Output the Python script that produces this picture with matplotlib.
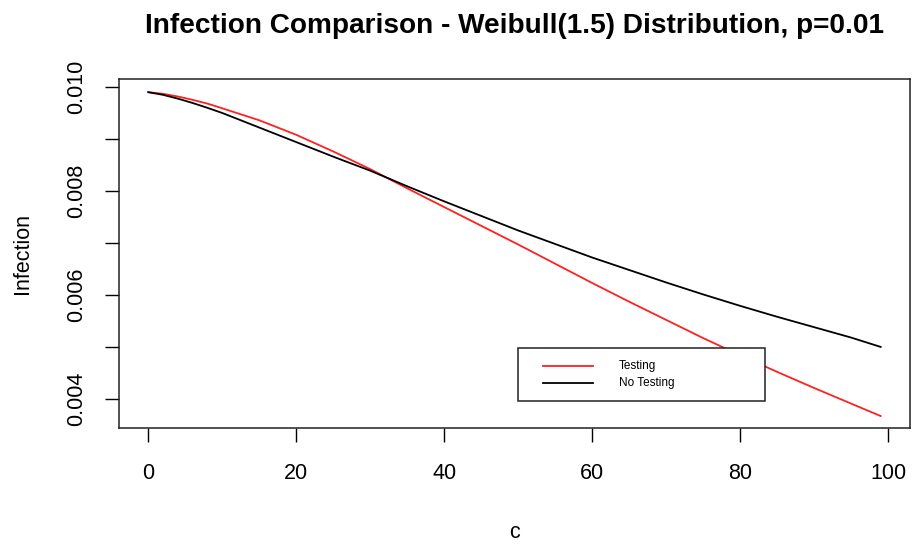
import numpy as np
import matplotlib
matplotlib.use('Agg')
import matplotlib.pyplot as plt
from matplotlib.patches import Rectangle

plt.rcParams['font.family'] = ['Liberation Sans', 'DejaVu Sans']

# values (denser near the start where the curves bend)
c = [0, 2, 4, 6, 8, 10, 15, 20, 25, 30, 35, 40, 45, 50, 55, 60, 65, 70, 75, 80, 85, 90, 95, 99]
testing = [0.0099, 0.009869, 0.009817, 0.009753, 0.00968, 0.00959, 0.00936, 0.00908,
           0.00876, 0.00842, 0.00805, 0.00769, 0.00733, 0.00697, 0.00660, 0.00623,
           0.00587, 0.00552, 0.00517, 0.00484, 0.00452, 0.00421, 0.00391, 0.00367]
no_testing = [0.0099, 0.009849, 0.009776, 0.009692, 0.009599, 0.00950, 0.00922, 0.00894,
              0.00866, 0.00839, 0.00809, 0.00780, 0.00752, 0.00724, 0.00698, 0.00672,
              0.00648, 0.00624, 0.00601, 0.00579, 0.00558, 0.00538, 0.00518, 0.00500]

xticks = [0, 20, 40, 60, 80, 100]
yticks = [0.004, 0.005, 0.006, 0.007, 0.008, 0.009, 0.010]
ylabels = ['0.004', '', '0.006', '', '0.008', '', '0.010']

red = '#ff2020'

fig = plt.figure(figsize=(9.15, 5.46), dpi=100)
ax = fig.add_axes([0.1301, 0.2161, 0.8644, 0.6392])

ax.plot(c, testing, color=red, lw=1.3)
ax.plot(c, no_testing, color='black', lw=1.3)

ax.set_xlim(-3.96, 102.96)
ax.set_ylim(0.00344, 0.010154)
ax.set_xticks(xticks)
ax.set_xticklabels([str(t) for t in xticks])
ax.set_yticks(yticks)
ax.set_yticklabels(ylabels, rotation=90, va='center')
ax.tick_params(axis='both', direction='out', length=10, width=1, labelsize=15.5, color='black')
ax.tick_params(axis='x', pad=15)
ax.tick_params(axis='y', pad=13)
for s in ax.spines.values():
    s.set_linewidth(1.1)
    s.set_color('#222222')

# legend drawn R-style, box in axes coordinates
ax.add_patch(Rectangle((0.5044, 0.0774), 0.3123, 0.1518, transform=ax.transAxes,
                       facecolor='white', edgecolor='#222222', lw=1.1, zorder=5))
for yy, col, lab in [(0.1777, red, 'Testing'), (0.1289, 'black', 'No Testing')]:
    ax.plot([0.536, 0.5992], [yy, yy], color=col, lw=1.3, transform=ax.transAxes, zorder=6)
    ax.text(0.6321, yy, lab, transform=ax.transAxes, fontsize=8.5, va='center',
            ha='left', zorder=6)

ax.set_title('Infection Comparison - Weibull(1.5) Distribution, p=0.01',
             fontsize=20.2, fontweight='bold', pad=33)
fig.text(0.5623, 1 - 538 / 546, 'c', ha='center', va='baseline', fontsize=15.5)
fig.text(33 / 915, 1 - 253 / 546, 'Infection', rotation=90, ha='right', va='center',
         fontsize=15.5)

fig.savefig('out.png', dpi=100)
